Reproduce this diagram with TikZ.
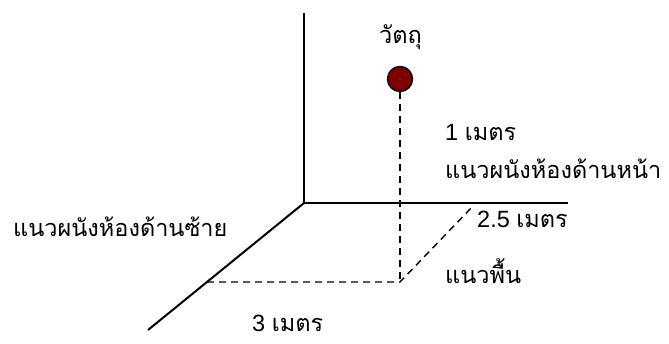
\documentclass[tikz,border=0pt]{standalone}
\usepackage{fontspec}
\setmainfont{Liberation Sans}
\newfontfamily\thaifont[Script=Thai]{Loma}
\usepackage{xcolor}
\definecolor{colBall}{HTML}{800000}
\definecolor{colLine}{HTML}{000000}
\usepackage{tikz}
\usetikzlibrary{positioning}

\tikzset{
  axisline/.style={colLine, line width=2pt},
  guideline/.style={colLine, line width=1.4pt, dash pattern=on 7pt off 5pt},
  lbl/.style={anchor=base west, inner sep=0pt, font=\fontsize{23.5}{27}\selectfont},
}

\begin{document}
\begin{tikzpicture}[x=1pt, y=-1pt]
        \useasboundingbox (0,0) rectangle (669,343);
        % Corner of the room
        \coordinate (origin) at (304,203);
        \coordinate (wallTop) at (304,13);
        \coordinate (wallRight) at (568,203);
        \coordinate (wallFront) at (148,330);
        \draw[axisline] (wallTop) -- (origin) -- (wallRight);
        \draw[axisline] (origin) -- (wallFront);
        % Object
        \node[circle, draw=colLine, line width=1.4pt, fill=colBall, minimum size=25pt, inner sep=0pt] (obj) at (400,79) {};
        % Projections
        \coordinate (floorPt) at (400,282);
        \coordinate (leftPt) at (207,282);
        \coordinate (backPt) at (473,206);
        \draw[guideline] (obj.south) -- (floorPt);
        \draw[guideline] (leftPt) -- (floorPt) -- (backPt);
        % Labels
        \node[lbl] (objLabel) at (379,43) {\thaifont วัตถุ};
        \node[lbl] (heightLabel) at (445,140) {1 {\thaifont เมตร}};
        \node[lbl] (frontWall) at (445,178) {\thaifont แนวผนังห้องด้านหน้า};
        \node[lbl] (leftWall) at (13,236) {\thaifont แนวผนังห้องด้านซ้าย};
        \node[lbl] (depthLabel) at (477,227) {2.5 {\thaifont เมตร}};
        \node[lbl] (floorLabel) at (445,283) {\thaifont แนวพื้น};
        \node[lbl] (widthLabel) at (252,331) {3 {\thaifont เมตร}};
    \end{tikzpicture}
\end{document}
